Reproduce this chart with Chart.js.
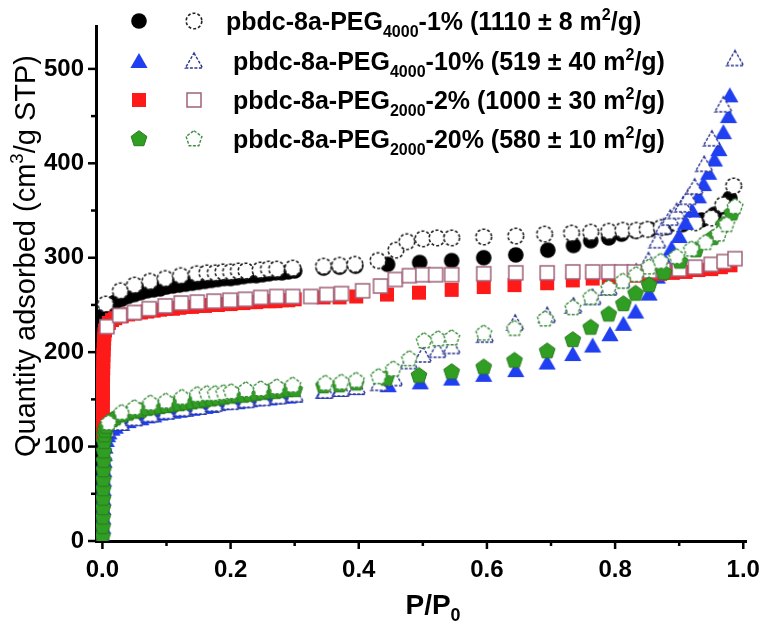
<!DOCTYPE html>
<html>
<head>
<meta charset="utf-8">
<script src="https://cdn.jsdelivr.net/npm/chart.js@4.4.1/dist/chart.umd.min.js"></script>
<style>
  html, body { margin: 0; padding: 0; background: #fff; }
  #wrap { width: 775px; height: 633px; }
</style>
</head>
<body>
<div id="wrap"><canvas id="chart" width="775" height="633"></canvas></div>
<script>
// ---- data: [P/P0, quantity adsorbed] ----
const peg4000_1_ads = [
  [0.0002,213],[0.0005,222],[0.001,230],[0.002,236],[0.004,241],[0.007,245],[0.01,248],[0.015,251],
  [0.02,253],[0.03,256],[0.04,259],[0.05,261],[0.06,263],[0.07,265],[0.08,266],[0.09,267],[0.1,269],
  [0.11,270],[0.12,271],[0.13,272],[0.14,273],[0.15,274],[0.16,275],[0.17,276],[0.18,277],[0.19,278],
  [0.2,278],[0.21,279],[0.22,280],[0.23,281],[0.24,281],[0.25,282],[0.26,283],[0.27,284],[0.28,284],
  [0.29,285],[0.3,286],[0.345,289],[0.37,290],[0.395,291],[0.445,293],[0.495,295],[0.545,297],
  [0.595,300],[0.645,303],[0.695,308],[0.735,313],[0.762,318],[0.79,321],[0.81,325],[0.832,328],
  [0.855,330],[0.88,332],[0.905,335],[0.935,340],[0.955,346],[0.968,354],[0.979,363]
];
const peg4000_1_des = [
  [0.005,251],[0.028,265],[0.05,271],[0.074,275],[0.098,278],[0.122,281],[0.147,283],[0.163,284],
  [0.176,284],[0.188,285],[0.2,285],[0.212,286],[0.224,286],[0.246,287],[0.259,288],[0.272,288],
  [0.297,289],[0.345,291],[0.37,292],[0.394,293],[0.43,297],[0.458,308],[0.475,317],[0.5,320],
  [0.522,321],[0.545,321],[0.595,322],[0.645,323],[0.69,325],[0.732,326],[0.762,327],[0.79,328],
  [0.812,329],[0.833,329],[0.85,330],[0.872,332],[0.897,336],[0.925,337],[0.95,342],[0.968,356],
  [0.985,376]
];
const peg4000_10_ads = [
  [0.0002,5],[0.0004,15],[0.0006,25],[0.0008,35],[0.001,45],[0.0013,55],[0.0016,65],[0.002,75],
  [0.0025,85],[0.003,92],[0.004,100],[0.006,107],[0.008,112],[0.01,115],[0.015,119],[0.02,121],
  [0.03,124],[0.04,127],[0.05,129],[0.06,130],[0.07,132],[0.08,133],[0.09,135],[0.1,136],[0.11,137],
  [0.12,138],[0.13,139],[0.14,140],[0.15,141],[0.16,142],[0.17,143],[0.18,145],[0.19,146],[0.2,147],
  [0.21,147],[0.22,148],[0.23,149],[0.24,150],[0.25,151],[0.26,151],[0.27,152],[0.28,153],[0.29,153],
  [0.3,154],[0.345,158],[0.37,160],[0.396,162],[0.446,165],[0.496,168],[0.545,172],[0.595,176],
  [0.645,181],[0.694,189],[0.734,198],[0.765,207],[0.792,219],[0.813,230],[0.832,243],[0.853,262],
  [0.866,280],[0.878,297],[0.888,310],[0.9,323],[0.91,337],[0.92,350],[0.93,365],[0.938,378],
  [0.946,390],[0.955,404],[0.962,415],[0.969,433],[0.977,450],[0.979,472]
];
const peg4000_10_des = [
  [0.006,118],[0.028,125],[0.05,130],[0.075,134],[0.1,137],[0.125,140],[0.15,142],[0.175,145],
  [0.2,147],[0.225,149],[0.25,151],[0.275,153],[0.3,155],[0.348,159],[0.373,161],[0.397,163],
  [0.432,167],[0.455,172],[0.478,190],[0.5,197],[0.523,202],[0.545,206],[0.597,218],[0.644,231],
  [0.694,239],[0.735,249],[0.765,258],[0.79,268],[0.81,276],[0.833,285],[0.852,297],[0.866,318],
  [0.876,333],[0.886,342],[0.896,349],[0.906,356],[0.914,364],[0.924,375],[0.939,399],[0.951,426],
  [0.969,462],[0.987,511]
];
const peg2000_2_ads = [
  [0.0001,113],[0.0002,120],[0.0003,127],[0.0004,134],[0.0005,141],[0.0006,148],[0.0007,155],
  [0.0008,162],[0.0009,169],[0.001,176],[0.0012,183],[0.0014,190],[0.0016,197],[0.0019,203],
  [0.0022,209],[0.0026,214],[0.003,219],[0.004,223],[0.006,227],[0.01,231],[0.015,234],[0.02,236],
  [0.03,238],[0.04,240],[0.05,241],[0.06,242],[0.07,243],[0.08,244],[0.09,245],[0.1,246],[0.11,246],
  [0.12,247],[0.13,248],[0.14,248],[0.15,249],[0.16,249],[0.17,250],[0.18,250],[0.19,251],[0.2,251],
  [0.21,252],[0.22,252],[0.23,253],[0.24,253],[0.25,254],[0.26,254],[0.27,254],[0.28,255],[0.29,255],
  [0.3,256],[0.345,258],[0.37,258],[0.396,259],[0.444,261],[0.494,263],[0.545,266],[0.595,269],
  [0.643,271],[0.694,273],[0.734,276],[0.765,278],[0.79,279],[0.81,280],[0.83,281],[0.85,282],
  [0.87,283],[0.89,284],[0.91,285],[0.93,287],[0.95,288],[0.965,290],[0.98,292]
];
const peg2000_2_des = [
  [0.007,227],[0.027,239],[0.05,242],[0.073,246],[0.098,249],[0.123,252],[0.148,253],[0.174,254],
  [0.199,255],[0.223,256],[0.247,258],[0.272,259],[0.297,259],[0.325,259],[0.35,261],[0.373,262],
  [0.406,265],[0.434,270],[0.457,277],[0.479,281],[0.5,282],[0.52,282],[0.545,282],[0.595,283],
  [0.645,284],[0.694,284],[0.734,285],[0.765,285],[0.79,285],[0.81,285],[0.83,285],[0.855,286],
  [0.875,287],[0.9,288],[0.925,290],[0.95,293],[0.97,296],[0.987,299]
];
const peg2000_20_ads = [
  [0.0002,5],[0.0004,15],[0.0006,25],[0.0008,35],[0.001,45],[0.0012,55],[0.0014,65],[0.0016,75],
  [0.0019,85],[0.0022,95],[0.0026,105],[0.003,112],[0.004,117],[0.006,121],[0.01,125],[0.015,128],
  [0.02,130],[0.03,133],[0.04,135],[0.05,137],[0.06,138],[0.07,140],[0.08,141],[0.09,142],[0.1,143],
  [0.11,144],[0.12,145],[0.13,146],[0.14,147],[0.15,148],[0.16,149],[0.17,150],[0.18,151],[0.19,152],
  [0.2,153],[0.21,154],[0.22,154],[0.23,155],[0.24,156],[0.25,157],[0.26,158],[0.27,158],[0.28,159],
  [0.29,160],[0.3,160],[0.345,164],[0.37,165],[0.396,167],[0.443,172],[0.494,175],[0.545,179],
  [0.595,184],[0.643,191],[0.694,201],[0.734,213],[0.762,226],[0.79,240],[0.813,251],[0.832,262],
  [0.853,271],[0.876,284],[0.901,296],[0.926,308],[0.952,321],[0.969,335],[0.982,347]
];
const peg2000_20_des = [
  [0.0095,125],[0.03,136],[0.05,141],[0.075,146],[0.099,148],[0.124,152],[0.148,155],[0.163,156],
  [0.176,156],[0.189,157],[0.201,158],[0.224,160],[0.247,161],[0.272,163],[0.297,165],[0.348,167],
  [0.373,168],[0.396,170],[0.431,174],[0.454,182],[0.479,193],[0.502,212],[0.524,214],[0.545,215],
  [0.595,220],[0.643,225],[0.691,235],[0.734,247],[0.762,258],[0.79,268],[0.812,275],[0.833,282],
  [0.853,290],[0.871,296],[0.896,301],[0.919,309],[0.941,316],[0.962,325],[0.974,335],[0.987,354]
];

// legend text pieces: [text, '' | 'sub' | 'sup']
const legendTexts = [
  [['pbdc-8a-PEG',''],['4000','sub'],['-1% (1110 \u00b1 8 m',''],['2','sup'],['/g)','']],
  [['pbdc-8a-PEG',''],['4000','sub'],['-10% (519 \u00b1 40 m',''],['2','sup'],['/g)','']],
  [['pbdc-8a-PEG',''],['2000','sub'],['-2% (1000 \u00b1 30 m',''],['2','sup'],['/g)','']],
  [['pbdc-8a-PEG',''],['2000','sub'],['-20% (580 \u00b1 10 m',''],['2','sup'],['/g)','']]
];
const xTitle = [['P/P',''],['0','sub']];
const yTitle = [['Quantity adsorbed (cm',''],['3','sup'],['/g STP)','']];

const FONT = '"Liberation Sans", Arial, sans-serif';

function makeMarker(shape, fill, stroke, lineW, dash) {
  const s = 24, c = document.createElement('canvas');
  c.width = s; c.height = s;
  const g = c.getContext('2d');
  const m = s / 2;
  g.beginPath();
  if (shape === 'circle') {
    g.arc(m, m, 7.8, 0, Math.PI * 2);
  } else if (shape === 'triangle') {
    g.moveTo(m, m - 8); g.lineTo(m + 8.6, m + 7); g.lineTo(m - 8.6, m + 7); g.closePath();
  } else if (shape === 'square') {
    g.rect(m - 7, m - 7, 14, 14);
  } else {
    for (let i = 0; i < 5; i++) {
      const a = -Math.PI / 2 + i * 2 * Math.PI / 5;
      g.lineTo(m + 8.3 * Math.cos(a), m + 8.3 * Math.sin(a));
    }
    g.closePath();
  }
  g.fillStyle = fill;
  g.fill();
  if (stroke) {
    g.setLineDash(dash || []);
    g.lineWidth = lineW;
    g.strokeStyle = stroke;
    g.stroke();
  }
  return c;
}

const markers = [
  makeMarker('circle', '#000000'),
  makeMarker('circle', '#ffffff', '#222222', 1.6, [3, 2]),
  makeMarker('triangle', '#1f3ff0'),
  makeMarker('triangle', '#ffffff', '#2c3590', 1.4, [3, 1.5]),
  makeMarker('square', '#ff1a1a'),
  makeMarker('square', '#ffffff', '#a0607a', 1.5),
  makeMarker('pentagon', '#2f9e22', '#2a7a1e', 1),
  makeMarker('pentagon', '#ffffff', '#3f8f3f', 1.4, [3, 1.5])
];

const series = [peg4000_1_ads, peg4000_1_des, peg4000_10_ads, peg4000_10_des,
                peg2000_2_ads, peg2000_2_des, peg2000_20_ads, peg2000_20_des];

function drawRich(ctx, parts, x, y, size, weight) {
  let cx = x;
  parts.forEach(([t, k]) => {
    const fs = k ? size * 0.64 : size;
    ctx.font = weight + ' ' + fs + 'px ' + FONT;
    const dy = k === 'sub' ? size * 0.26 : (k === 'sup' ? -size * 0.4 : 0);
    ctx.fillText(t, cx, y + dy);
    cx += ctx.measureText(t).width;
  });
  return cx - x;
}

function richWidth(ctx, parts, size, weight) {
  let w = 0;
  parts.forEach(([t, k]) => {
    ctx.font = weight + ' ' + (k ? size * 0.64 : size) + 'px ' + FONT;
    w += ctx.measureText(t).width;
  });
  return w;
}

const decorPlugin = {
  id: 'decor',
  afterDraw(chart) {
    const ctx = chart.ctx;
    const xs = chart.scales.x, ys = chart.scales.y;
    const area = chart.chartArea;
    ctx.save();
    ctx.strokeStyle = '#000';
    ctx.lineWidth = 2.5;
    // outward tick marks, long at labelled values
    xs.ticks.forEach(t => {
      const px = xs.getPixelForValue(t.value);
      const major = Math.round(t.value * 10) % 2 === 0;
      ctx.beginPath();
      ctx.moveTo(px, area.bottom);
      ctx.lineTo(px, area.bottom + (major ? 8 : 5));
      ctx.stroke();
    });
    ys.ticks.forEach(t => {
      const py = ys.getPixelForValue(t.value);
      const major = t.value % 100 === 0;
      ctx.beginPath();
      ctx.moveTo(area.left, py);
      ctx.lineTo(area.left - (major ? 8 : 5), py);
      ctx.stroke();
    });
    // legend
    ctx.fillStyle = '#000';
    ctx.textBaseline = 'alphabetic';
    const rowY = [21, 61, 100, 139];
    const textX = [226, 233, 233, 233];
    legendTexts.forEach((parts, i) => {
      const f = markers[i * 2], o = markers[i * 2 + 1];
      ctx.drawImage(f, 139 - f.width / 2, rowY[i] - f.height / 2);
      ctx.drawImage(o, 194 - o.width / 2, rowY[i] - o.height / 2);
      drawRich(ctx, parts, textX[i], rowY[i] + 9, 25, 'bold');
    });
    // x title
    const xw = richWidth(ctx, xTitle, 28, 'bold');
    drawRich(ctx, xTitle, 433 - xw / 2, 614, 28, 'bold');
    // y title (rotated)
    ctx.save();
    ctx.translate(35, 256);
    ctx.rotate(-Math.PI / 2);
    const yw = richWidth(ctx, yTitle, 29, 'normal');
    drawRich(ctx, yTitle, -yw / 2, 0, 29, 'normal');
    ctx.restore();
    ctx.restore();
  }
};

const datasets = series.map((arr, i) => ({
  data: arr.map(p => ({ x: p[0], y: p[1] })),
  pointStyle: markers[i],
  pointRadius: 8,
  showLine: false,
  order: 10 - i
}));

new Chart(document.getElementById('chart'), {
  type: 'scatter',
  data: { datasets },
  options: {
    responsive: false,
    animation: false,
    devicePixelRatio: 1,
    layout: { padding: { left: 0, right: 8, top: 12, bottom: 0 } },
    plugins: { legend: { display: false }, tooltip: { enabled: false } },
    scales: {
      x: {
        type: 'linear',
        min: -0.01,
        max: 1.005,
        afterFit: s => { s.height = 92; },
        grid: { display: false, drawTicks: false },
        border: { display: true, color: '#000', width: 3 },
        ticks: {
          stepSize: 0.1,
          includeBounds: false,
          padding: 15,
          maxRotation: 0,
          autoSkip: false,
          color: '#000',
          font: { family: FONT, size: 24, weight: 'bold' },
          callback: v => (Math.round(v * 10) % 2 === 0 ? v.toFixed(1) : '')
        }
      },
      y: {
        type: 'linear',
        min: 0,
        max: 545,
        afterFit: s => { s.width = 96; },
        grid: { display: false, drawTicks: false },
        border: { display: true, color: '#000', width: 3 },
        ticks: {
          stepSize: 50,
          includeBounds: false,
          padding: 12,
          autoSkip: false,
          color: '#000',
          font: { family: FONT, size: 24, weight: 'bold' },
          callback: v => (v % 100 === 0 ? String(v) : '')
        }
      }
    }
  },
  plugins: [decorPlugin]
});
</script>
</body>
</html>
